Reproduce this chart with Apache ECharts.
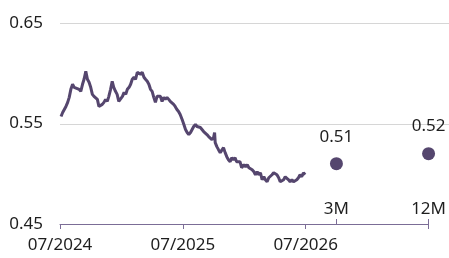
<!DOCTYPE html>
<html>
<head>
<meta charset="utf-8">
<script src="https://cdn.jsdelivr.net/npm/echarts@6/dist/echarts.min.js"></script>
<style>
  html, body { margin: 0; padding: 0; background: #fff; }
  #chart { width: 449px; height: 258px; }
</style>
</head>
<body>
<div id="chart"></div>
<script>
// months since 07/2024
var lineMonths = [
    0.10, 0.26, 0.42, 0.58, 0.75, 0.90, 1.06, 1.23, 1.38, 1.55, 1.87, 2.03, 2.20, 2.35, 2.52, 2.68, 2.84, 3.00, 3.16, 3.32,
    3.48, 3.65, 3.80, 3.97, 4.13, 4.29, 4.45, 4.62, 4.77, 4.94, 5.10, 5.25, 5.42, 5.58, 5.74, 5.93, 6.10, 6.26, 6.42, 6.58,
    6.75, 6.90, 7.06, 7.23, 7.38, 7.55, 7.71, 7.87, 8.03, 8.20, 8.35, 8.52, 8.68, 8.84, 9.00, 9.16, 9.32, 9.48, 9.65, 9.80,
    9.97, 10.13, 10.29, 10.45, 10.62, 10.77, 10.94, 11.10, 11.25, 11.42, 11.58, 11.74, 11.93, 12.10, 12.26, 12.42, 12.58, 12.75, 12.90, 13.06,
    13.23, 13.38, 13.55, 13.71, 13.87, 14.03, 14.20, 14.35, 14.52, 14.68, 14.84, 15.00, 15.10, 15.16, 15.32, 15.48, 15.65, 15.80, 15.97, 16.13,
    16.29, 16.45, 16.62, 16.77, 16.94, 17.10, 17.25, 17.42, 17.58, 17.74, 17.97, 18.13, 18.29, 18.45, 18.61, 18.77, 18.94, 19.09, 19.26, 19.42,
    19.58, 19.74, 19.91, 20.06, 20.23, 20.39, 20.54, 20.71, 20.87, 21.03, 21.19, 21.36, 21.51, 21.68, 21.84, 22.00, 22.16, 22.33, 22.48, 22.65,
    22.81, 22.97, 23.13, 23.29, 23.45, 23.61, 23.78, 23.94
];
var lineValues = [
    0.557, 0.561, 0.562, 0.567, 0.571, 0.576, 0.584, 0.589, 0.586, 0.587, 0.584, 0.582, 0.589, 0.594, 0.602, 0.594, 0.591, 0.586, 0.579, 0.577,
    0.577, 0.574, 0.567, 0.566, 0.569, 0.571, 0.574, 0.572, 0.577, 0.584, 0.592, 0.586, 0.582, 0.579, 0.572, 0.572, 0.577, 0.581, 0.579, 0.584,
    0.586, 0.589, 0.594, 0.596, 0.594, 0.601, 0.602, 0.599, 0.601, 0.596, 0.594, 0.592, 0.589, 0.584, 0.582, 0.576, 0.571, 0.577, 0.576, 0.577,
    0.572, 0.576, 0.574, 0.576, 0.574, 0.572, 0.572, 0.569, 0.567, 0.564, 0.562, 0.559, 0.554, 0.549, 0.544, 0.541, 0.539, 0.541, 0.541, 0.547,
    0.549, 0.547, 0.546, 0.546, 0.544, 0.542, 0.541, 0.539, 0.537, 0.537, 0.534, 0.536, 0.541, 0.531, 0.527, 0.524, 0.521, 0.522, 0.526, 0.521,
    0.517, 0.514, 0.512, 0.516, 0.514, 0.516, 0.512, 0.511, 0.512, 0.506, 0.509, 0.507, 0.509, 0.506, 0.507, 0.504, 0.502, 0.499, 0.502, 0.499,
    0.501, 0.494, 0.497, 0.494, 0.492, 0.496, 0.497, 0.499, 0.501, 0.502, 0.499, 0.496, 0.492, 0.491, 0.494, 0.497, 0.496, 0.494, 0.492, 0.494,
    0.492, 0.491, 0.494, 0.496, 0.499, 0.497, 0.501, 0.499
];

var dateTicks = [0, 12, 24];
var dateLabels = ["07/2024", "07/2025", "07/2026"];
var horizonMonths = [27, 36];
var horizonLabels = ["3M", "12M"];
var forecastValues = [0.51, 0.52];
var yTicks = [0.45, 0.55, 0.65];

var LINE = "#55466e";
var AXIS = "#7b6d96";
var TEXT = "#1e1e1e";
var FONT = "Noto Sans";

var chart = echarts.init(document.getElementById("chart"), null, { renderer: "canvas" });

var lineData = lineMonths.map((m, i) => [m, lineValues[i]]);
var dotData = horizonMonths.map((m, i) => [m, forecastValues[i]]);

var option = {
    animation: false,
    grid: [
        { left: 60, right: 17, top: 23, bottom: 34 },
        { left: 60, right: 0, top: 23, bottom: 134 }
    ],
    xAxis: [
        {
            gridIndex: 0, type: "value", min: 0, max: 36, position: "bottom",
            axisLine: { show: true, lineStyle: { color: AXIS, width: 1 } },
            axisTick: { show: true, length: 5, customValues: [0, 12, 24, 36], lineStyle: { color: AXIS } },
            axisLabel: {
                customValues: dateTicks, margin: 13, color: TEXT, fontFamily: FONT, fontSize: 17,
                formatter: v => dateLabels[dateTicks.indexOf(v)] || ""
            },
            splitLine: { show: false }
        },
        {
            gridIndex: 0, type: "value", min: 0, max: 36, position: "bottom",
            axisLine: { show: false },
            axisTick: { show: true, inside: true, length: 5, customValues: horizonMonths, lineStyle: { color: AXIS } },
            axisLabel: {
                inside: true, customValues: horizonMonths, margin: 6, color: TEXT, fontFamily: FONT, fontSize: 17,
                formatter: v => horizonLabels[horizonMonths.indexOf(v)] || ""
            },
            splitLine: { show: false }
        },
        {
            gridIndex: 1, type: "value", min: 0, max: 1, show: false
        }
    ],
    yAxis: [
        {
            gridIndex: 0, type: "value", min: 0.45, max: 0.65, interval: 0.1,
            axisLine: { show: false }, axisTick: { show: false },
            axisLabel: {
                margin: 17, color: TEXT, fontFamily: FONT, fontSize: 17,
                formatter: v => v.toFixed(2)
            },
            splitLine: { show: false }
        },
        {
            gridIndex: 1, type: "value", min: 0.55, max: 0.65, interval: 0.1,
            axisLine: { show: false }, axisTick: { show: false }, axisLabel: { show: false },
            splitLine: { show: true, lineStyle: { color: "#d6d6d6", width: 1 } }
        }
    ],
    series: [
        {
            type: "line", xAxisIndex: 0, yAxisIndex: 0,
            data: lineData, showSymbol: false, smooth: false,
            lineStyle: { color: LINE, width: 3 }
        },
        {
            type: "scatter", xAxisIndex: 0, yAxisIndex: 0, clip: false,
            data: dotData, symbolSize: 13,
            itemStyle: { color: LINE, opacity: 1 },
            label: {
                show: true, position: "top", distance: 12, color: TEXT, fontFamily: FONT, fontSize: 17,
                formatter: p => p.value[1].toFixed(2)
            }
        }
    ]
};

chart.setOption(option);
</script>
</body>
</html>
